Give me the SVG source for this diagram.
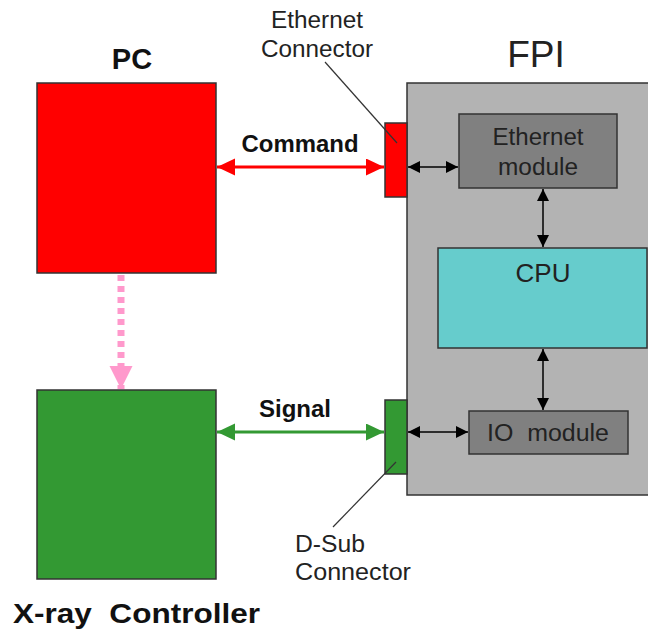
<svg xmlns="http://www.w3.org/2000/svg" width="648" height="632" viewBox="0 0 648 632">
<style>
.box{stroke:#333;stroke-width:1.5}
.bold{font-family:"Liberation Sans",Arial,sans-serif;font-weight:bold;fill:#111}
.reg{font-family:"Liberation Sans",Arial,sans-serif;fill:#222}
.lead{stroke:#333;stroke-width:1.2;fill:none}
</style>
<defs>
<marker id="ar" markerUnits="userSpaceOnUse" markerWidth="19" markerHeight="18" refX="18" refY="8.5" orient="auto-start-reverse"><path d="M0,0 L18,8.5 L0,17 Z" fill="#FF0000"/></marker>
<marker id="ag" markerUnits="userSpaceOnUse" markerWidth="19" markerHeight="18" refX="18" refY="8.5" orient="auto-start-reverse"><path d="M0,0 L18,8.5 L0,17 Z" fill="#339933"/></marker>
<marker id="ab" markerUnits="userSpaceOnUse" markerWidth="13" markerHeight="13" refX="12" refY="6" orient="auto-start-reverse"><path d="M0,0 L12,6 L0,12 Z" fill="#000"/></marker>
<marker id="ap" markerUnits="userSpaceOnUse" markerWidth="24" markerHeight="24" refX="23" refY="11.5" orient="auto"><path d="M0,0 L23,11.5 L0,23 Z" fill="#FF99CC"/></marker>
</defs>

<g id="pc">
<rect class="box" x="37" y="83" width="179" height="190" fill="#FF0000"/>
<text class="bold" x="132" y="69" font-size="29" text-anchor="middle">PC</text>
</g>

<g id="xray">
<rect class="box" x="37" y="390" width="179" height="189" fill="#339933"/>
<text class="bold" x="13" y="623" font-size="28" xml:space="preserve" textLength="247" lengthAdjust="spacingAndGlyphs">X-ray  Controller</text>
</g>

<g id="fpi">
<rect class="box" x="407" y="83" width="250" height="412" fill="#B3B3B3"/>
<text class="reg" x="536" y="67" font-size="37" text-anchor="middle">FPI</text>
</g>

<g id="eth-connector">
<rect class="box" x="385" y="123" width="22" height="74" fill="#FF0000"/>
<text class="reg" x="317" y="28" font-size="23" text-anchor="middle" textLength="92" lengthAdjust="spacingAndGlyphs">Ethernet</text>
<text class="reg" x="317" y="57" font-size="23" text-anchor="middle" textLength="112" lengthAdjust="spacingAndGlyphs">Connector</text>
</g>

<g id="dsub-connector">
<rect class="box" x="385" y="400" width="22" height="74" fill="#339933"/>
<text class="reg" x="295" y="552" font-size="23" textLength="70" lengthAdjust="spacingAndGlyphs">D-Sub</text>
<text class="reg" x="295" y="580" font-size="23" textLength="116" lengthAdjust="spacingAndGlyphs">Connector</text>
</g>

<g id="eth-module">
<rect class="box" x="459" y="114" width="158" height="74" fill="#808080"/>
<text class="reg" x="538" y="145" font-size="23" text-anchor="middle" textLength="91" lengthAdjust="spacingAndGlyphs">Ethernet</text>
<text class="reg" x="538" y="175" font-size="23" text-anchor="middle" textLength="80" lengthAdjust="spacingAndGlyphs">module</text>
</g>

<g id="cpu">
<rect class="box" x="438" y="248" width="209" height="100" fill="#66CCCC"/>
<text class="reg" x="543" y="282" font-size="26" text-anchor="middle">CPU</text>
</g>

<g id="io-module">
<rect class="box" x="469" y="411" width="159" height="43" fill="#808080"/>
<text class="reg" x="487" y="441" font-size="23" xml:space="preserve" textLength="122" lengthAdjust="spacingAndGlyphs">IO  module</text>
</g>

<g id="connectors">
<line x1="217" y1="167" x2="384" y2="167" stroke="#FF0000" stroke-width="3" marker-start="url(#ar)" marker-end="url(#ar)"/>
<text class="bold" x="300" y="152" font-size="23" text-anchor="middle" textLength="117" lengthAdjust="spacingAndGlyphs">Command</text>
<line x1="217" y1="432" x2="384" y2="432" stroke="#339933" stroke-width="3" marker-start="url(#ag)" marker-end="url(#ag)"/>
<text class="bold" x="295" y="417" font-size="23" text-anchor="middle" textLength="72" lengthAdjust="spacingAndGlyphs">Signal</text>
<line x1="121" y1="275" x2="121" y2="389" stroke="#FF99CC" stroke-width="7" stroke-dasharray="6 5" marker-end="url(#ap)"/>
<line x1="408" y1="167" x2="458" y2="167" stroke="#000" stroke-width="1.5" marker-start="url(#ab)" marker-end="url(#ab)"/>
<line x1="408" y1="432" x2="468" y2="432" stroke="#000" stroke-width="1.5" marker-start="url(#ab)" marker-end="url(#ab)"/>
<line x1="543" y1="189" x2="543" y2="247" stroke="#000" stroke-width="1.5" marker-start="url(#ab)" marker-end="url(#ab)"/>
<line x1="543" y1="349" x2="543" y2="410" stroke="#000" stroke-width="1.5" marker-start="url(#ab)" marker-end="url(#ab)"/>
<line class="lead" x1="325" y1="62" x2="397" y2="143"/>
<line class="lead" x1="396" y1="462" x2="333" y2="527"/>
</g>
</svg>
